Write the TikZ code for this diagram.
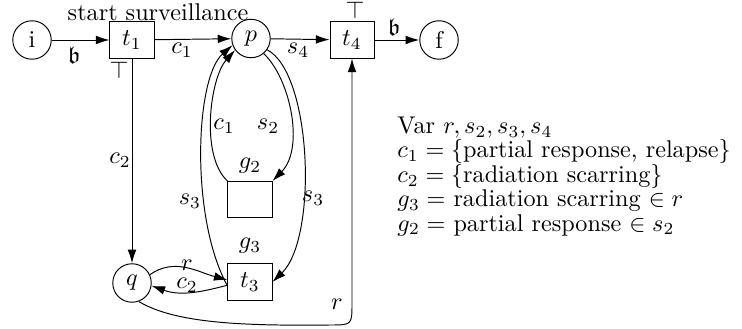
\documentclass[tikz,border=0pt]{standalone}
\usepackage{amssymb}
\usetikzlibrary{arrows.meta}
\begin{document}
\begin{tikzpicture}[x=0.4132pt,y=0.4132pt,
  place/.style={draw,circle,minimum size=15.9pt,inner sep=0pt},
  trans/.style={draw,rectangle,minimum width=18.2pt,minimum height=14.9pt,inner sep=0pt},
  arc/.style={-{Latex[length=5.6pt,width=3.6pt]}},
  lbl/.style={inner sep=0pt},
  txt/.style={inner sep=0pt,anchor=north west,align=left,font={\fontsize{10}{10.1}\selectfont}}]
\useasboundingbox (0,0) rectangle (742,328);
% nodes
\node[place] (i) at (32,288) {i};
\node[trans] (t1) at (132,288) {$t_1$};
\node[place] (p) at (251,289.5) {$p$};
\node[trans] (t4) at (352,288) {$t_4$};
\node[place] (f) at (439,288) {f};
\node[trans] (g2) at (250,128.5) {};
\node[trans] (t3) at (250,46) {$t_3$};
\node[place] (q) at (132,45) {$q$};
% labels
\node[lbl] (ss) at (158,316) {start surveillance};
\node[lbl] (b1) at (74,273) {$\mathfrak{b}$};
\node[lbl] (top1) at (119,258) {$\top$};
\node[lbl] (lc1) at (182,278) {$c_1$};
\node[lbl] (ls4) at (298,278) {$s_4$};
\node[lbl] (top4) at (355,317.5) {$\top$};
\node[lbl] (b2) at (394,301) {$\mathfrak{b}$};
\node[lbl] (lc2) at (120,168) {$c_2$};
\node[lbl] (ls3a) at (190,127) {$s_3$};
\node[lbl] (ls3b) at (313,130) {$s_3$};
\node[lbl] (lg2) at (250,162) {$g_2$};
\node[lbl] (lg3) at (250,82) {$g_3$};
\node[lbl] (lc1m) at (224,202) {$c_1$};
\node[lbl] (ls2m) at (268,202) {$s_2$};
\node[lbl] (lr1) at (187,63) {$r$};
\node[lbl] (lc2b) at (187,43) {$c_2$};
\node[lbl] (lr2) at (337,24) {$r$};
% text block
\node[txt] (decl) at (397,211.5) {Var $r, s_2, s_3, s_4$\\
$c_1 = \{$partial response, relapse$\}$\\
$c_2 = \{$radiation scarring$\}$\\
$g_3 =$ radiation scarring $\in r$\\
$g_2 =$ partial response $\in s_2$};
% connectors
\draw[arc] (i) -- (t1);
\draw[arc] (t1) -- (p);
\draw[arc] (p) -- (t4);
\draw[arc] (t4) -- (f);
\draw[arc] (t1.south) -- (q.north);
\draw[arc] (q.25) to[out=35,in=165] (t3.175);
\draw[arc] (t3.188) to[out=195,in=-20] (q.-8);
\draw[arc] (t3.190) .. controls (190,110) and (195,250) .. (p.-160);
\draw[arc] (g2.north west) .. controls (200,172) and (210,250) .. (p.-144);
\draw[arc] (p.-50) .. controls (290,250) and (305,180) .. (g2.north east);
\draw[arc] (p.-35) .. controls (312,255) and (318,90) .. (t3.east);
\draw[arc] (q.-70) .. controls (175,5) and (240,2) .. (330,3) .. controls (352,3) .. (352,25) -- (t4.south);
\end{tikzpicture}
\end{document}
